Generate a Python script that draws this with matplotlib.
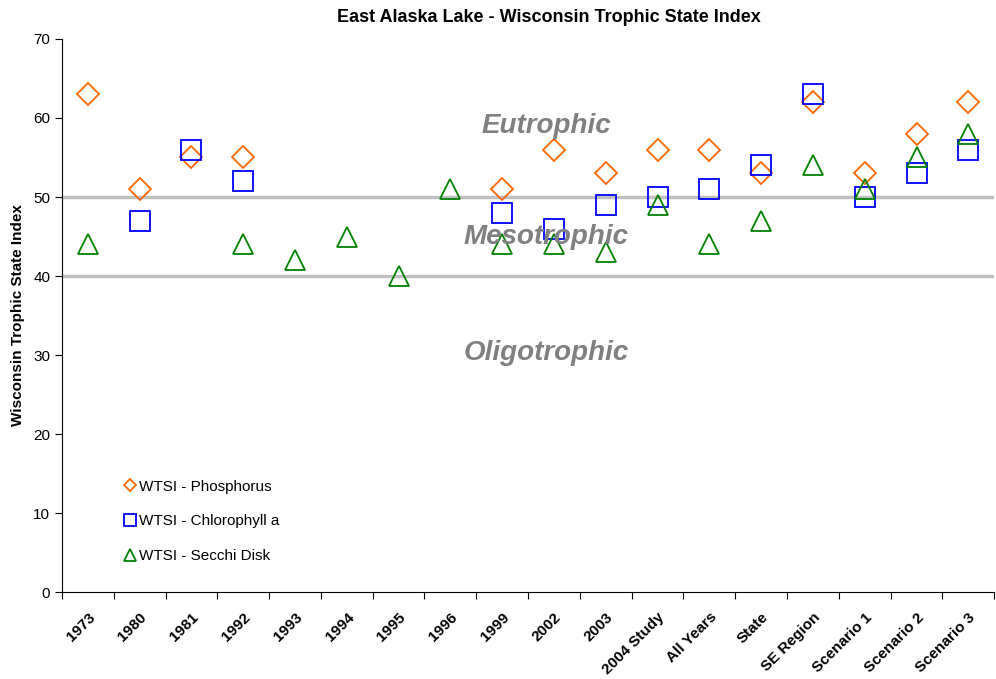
import numpy as np
import matplotlib.pyplot as plt
from matplotlib.transforms import ScaledTranslation

plt.rcParams['font.family'] = ['Liberation Sans', 'DejaVu Sans']

# categories along the x axis
categories = ['1973', '1980', '1981', '1992', '1993', '1994', '1995', '1996',
              '1999', '2002', '2003', '2004 Study', 'All Years', 'State',
              'SE Region', 'Scenario 1', 'Scenario 2', 'Scenario 3']

nan = np.nan
# WTSI values (nan = no value)
phosphorus = [63, 51, 55, 55, nan, nan, nan, nan, 51, 56, 53, 56, 56, 53, 62, 53, 58, 62]
chlorophyll = [nan, 47, 56, 52, nan, nan, nan, nan, 48, 46, 49, 50, 51, 54, 63, 50, 53, 56]
secchi = [44, nan, nan, 44, 42, 45, 40, 51, 44, 44, 43, 49, 44, 47, 54, 51, 55, 58]

# trophic state boundaries
boundaries = [40, 50]

x = np.arange(len(categories))

fig = plt.figure(figsize=(9.96, 6.79), dpi=100)
ax = fig.add_axes([0.0622, 0.128, 0.936, 0.8146])

for b in boundaries:
    ax.axhline(b, color='#c0c0c0', lw=2.5, zorder=1)

ax.plot(x, phosphorus, 'D', ms=11, mfc='none', mec='#ff6600', mew=1.3,
        ls='none', label='WTSI - Phosphorus', zorder=3)
ax.plot(x, chlorophyll, 's', ms=14, mfc='none', mec='#0000ff', mew=1.3,
        ls='none', label='WTSI - Chlorophyll a', zorder=3)
ax.plot(x, secchi, '^', ms=14.5, mfc='none', mec='#008000', mew=1.3,
        ls='none', label='WTSI - Secchi Disk', zorder=3)

# zone labels
zone_style = dict(color='#808080', fontsize=20, fontweight='bold', style='italic',
                  ha='center', va='center')
ax.text(8.85, 59.0, 'Eutrophic', **zone_style)
ax.text(8.85, 45.0, 'Mesotrophic', **zone_style)
ax.text(8.85, 30.3, 'Oligotrophic', **zone_style)

ax.set_xlim(-0.5, len(categories) - 0.5)
ax.set_ylim(0, 70)
ax.set_yticks(range(0, 71, 10))
ax.set_xticks(np.arange(-0.5, len(categories), 1.0))
ax.set_xticklabels([])
ax.set_xticks(x, minor=True)
ax.set_xticklabels(categories, minor=True, rotation=45, ha='right',
                   rotation_mode='anchor', fontsize=11, fontweight='bold')
shift = ScaledTranslation(-10 / 100, 0, fig.dpi_scale_trans)
for lbl in ax.get_xticklabels(minor=True):
    lbl.set_transform(lbl.get_transform() + shift)
ax.tick_params(axis='x', which='minor', length=0, pad=13)
ax.tick_params(axis='x', which='major', length=5, direction='out')
ax.tick_params(axis='y', length=5, labelsize=11)

for s in ['top', 'right']:
    ax.spines[s].set_visible(False)

ax.set_ylabel('Wisconsin Trophic State Index', fontsize=11, fontweight='bold',
              labelpad=6)
ax.set_title('East Alaska Lake - Wisconsin Trophic State Index', fontsize=13,
             fontweight='bold', pad=12, x=0.522)

leg = ax.legend(loc='lower left', bbox_to_anchor=(0.053, 0.028), frameon=False,
                fontsize=11, markerscale=0.6, handlelength=0.6, handletextpad=0.3,
                labelspacing=1.35)

fig.savefig('out.png', dpi=100)
